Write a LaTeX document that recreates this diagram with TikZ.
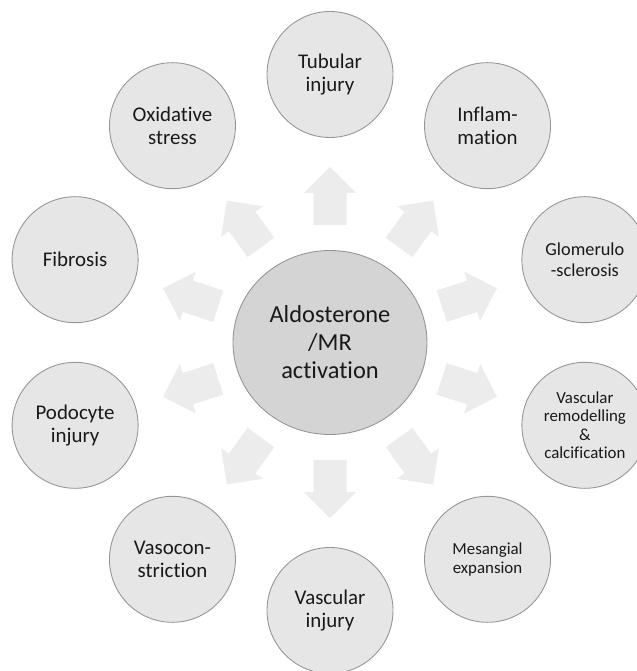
\documentclass[tikz,border=0pt]{standalone}
\usepackage{fontspec}
\setmainfont[Ligatures=NoCommon]{Carlito}
\usepackage{tikz}
\usetikzlibrary{shapes.geometric}
\definecolor{hubcolor}{HTML}{D4D4D4}
\definecolor{leafcolor}{HTML}{E6E6E6}
\definecolor{edgecolor}{HTML}{959595}
\definecolor{arrowcolor}{HTML}{ECECEC}

\begin{document}
\begin{tikzpicture}[
  hub/.style={ellipse, draw=edgecolor, fill=hubcolor, line width=0.5pt,
    minimum width=3.88cm, minimum height=3.68cm, inner sep=0pt, align=center,
    text=black!90, font=\fontsize{13.9}{15.9}\selectfont},
  leaf/.style={circle, draw=edgecolor, fill=leafcolor, line width=0.5pt,
    minimum size=2.52cm, inner sep=0pt, align=center, text=black!90}]
  \useasboundingbox (-6.6,-6.57) rectangle (6.12,6.85);
  \node[hub] (mr) at (0,0) {Aldosterone\\/MR\\activation};
%% block arrows round the hub
  \foreach \a in {90,54,...,-234}
    \fill[arrowcolor, shift={(mr.center)}, rotate=\a] (2.35,-0.33) -- (2.99,-0.33) -- (2.99,-0.52)
      -- (3.51,0) -- (2.99,0.52) -- (2.99,0.33) -- (2.35,0.33) -- cycle;
%% outer circles
  \foreach \nm/\ang/\fs/\ls/\txt in {tub/90/11.9/13/{Tubular\\injury},
      inf/54/11.9/13/{Inflam-\\mation},
      glo/18/10.4/12.3/{Glomerulo\\-sclerosis},
      rem/-18/9.6/10.5/{Vascular\\remodelling\\\&\\calcification},
      mes/-54/9.6/10.8/{Mesangial\\expansion},
      vin/-90/11.9/13/{Vascular\\injury},
      con/-126/11.9/13/{Vasocon-\\striction},
      pod/-162/11.9/13/{Podocyte\\injury},
      fib/162/11.9/13/{Fibrosis},
      oxi/126/11.9/13/{Oxidative\\stress}}
    \node[leaf, font=\fontsize{\fs}{\ls}\selectfont] (\nm) at (\ang:5.36) {\txt};
\end{tikzpicture}
\end{document}
